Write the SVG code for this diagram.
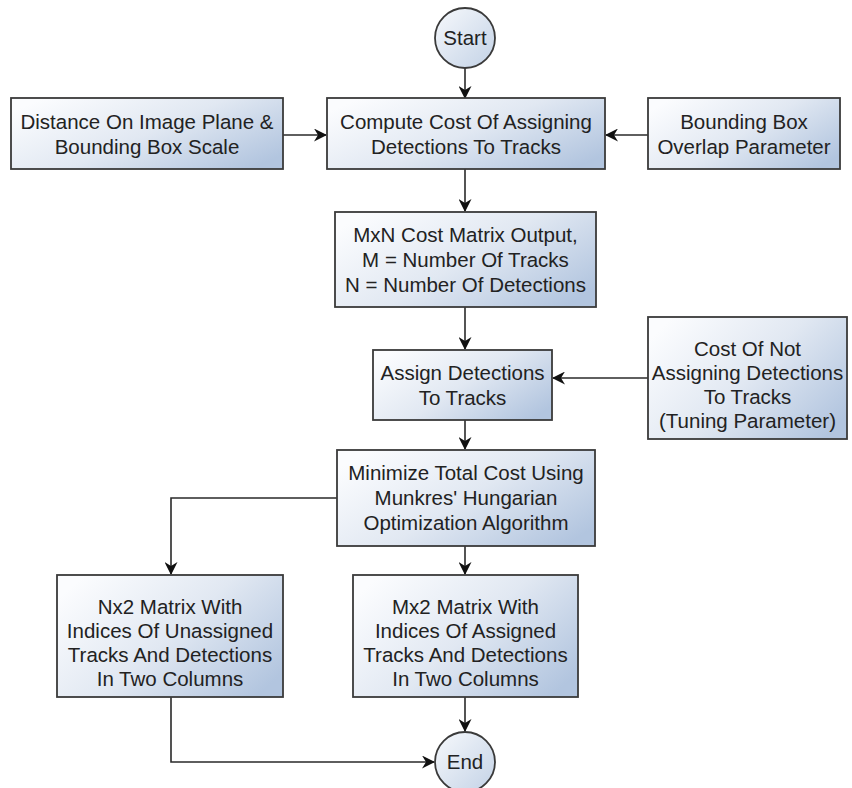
<svg xmlns="http://www.w3.org/2000/svg" width="852" height="788" viewBox="0 0 852 788">
  <style>
    .box { fill: url(#fillGrad); stroke: #3a3a3a; stroke-width: 1.8; }
    .term { fill: url(#termGrad); stroke: #3a3a3a; stroke-width: 1.8; }
    .lbl { font-family: "Liberation Sans", Arial, sans-serif; font-size: 20.5px; fill: #222; text-anchor: middle; }
    .edge { fill: none; stroke: #2a2a2a; stroke-width: 1.6; marker-end: url(#arrow); }
  </style>
  <defs>
    <linearGradient id="fillGrad" x1="0" y1="0.2" x2="1" y2="0.8">
      <stop offset="0" stop-color="#fbfcfe"/>
      <stop offset="0.5" stop-color="#e1e8f2"/>
      <stop offset="1" stop-color="#b2c5df"/>
    </linearGradient>
    <linearGradient id="termGrad" x1="0" y1="0" x2="1" y2="1">
      <stop offset="0" stop-color="#f7f9fc"/>
      <stop offset="1" stop-color="#c3d2e6"/>
    </linearGradient>
    <marker id="arrow" markerUnits="userSpaceOnUse" markerWidth="13" markerHeight="13" refX="12" refY="6.5" orient="auto">
      <path d="M0,0 L13,6.5 L0,13 L4,6.5 z" fill="#111"/>
    </marker>
  </defs>

  <!-- connectors -->
  <g id="connectors">
    <path class="edge" d="M465,68 V98"/>
    <path class="edge" d="M283,135 H326"/>
    <path class="edge" d="M648,135 H606"/>
    <path class="edge" d="M465,169 V211"/>
    <path class="edge" d="M465,307 V349"/>
    <path class="edge" d="M648,378 H553"/>
    <path class="edge" d="M465,420 V449"/>
    <path class="edge" d="M337,498 H171 V574"/>
    <path class="edge" d="M465,546 V574"/>
    <path class="edge" d="M465,697 V731"/>
    <path class="edge" d="M171,697 V762 H434"/>
  </g>

  <g id="start">
    <circle class="term" cx="465" cy="38" r="30"/>
    <text class="lbl" x="465" y="45">Start</text>
  </g>

  <g id="distance">
    <rect class="box" x="11" y="98" width="272" height="71"/>
    <text class="lbl" x="147" y="129">Distance On Image Plane &amp;</text>
    <text class="lbl" x="147" y="154">Bounding Box Scale</text>
  </g>

  <g id="compute">
    <rect class="box" x="327" y="98" width="278" height="71"/>
    <text class="lbl" x="466" y="129">Compute Cost Of Assigning</text>
    <text class="lbl" x="466" y="154">Detections To Tracks</text>
  </g>

  <g id="overlap">
    <rect class="box" x="648" y="98" width="192" height="71"/>
    <text class="lbl" x="744" y="129">Bounding Box</text>
    <text class="lbl" x="744" y="154">Overlap Parameter</text>
  </g>

  <g id="matrix">
    <rect class="box" x="335" y="212" width="261" height="95"/>
    <text class="lbl" x="465.5" y="242">MxN Cost Matrix Output,</text>
    <text class="lbl" x="465.5" y="267">M = Number Of Tracks</text>
    <text class="lbl" x="465.5" y="292">N = Number Of Detections</text>
  </g>

  <g id="assign">
    <rect class="box" x="373" y="350" width="179" height="70"/>
    <text class="lbl" x="462.5" y="380">Assign Detections</text>
    <text class="lbl" x="462.5" y="405">To Tracks</text>
  </g>

  <g id="nonassign">
    <rect class="box" x="648" y="317" width="199" height="122"/>
    <text class="lbl" x="747.5" y="356">Cost Of Not</text>
    <text class="lbl" x="747.5" y="380">Assigning Detections</text>
    <text class="lbl" x="747.5" y="404">To Tracks</text>
    <text class="lbl" x="747.5" y="428">(Tuning Parameter)</text>
  </g>

  <g id="minimize">
    <rect class="box" x="337" y="450" width="258" height="96"/>
    <text class="lbl" x="466" y="480">Minimize Total Cost Using</text>
    <text class="lbl" x="466" y="505">Munkres' Hungarian</text>
    <text class="lbl" x="466" y="530">Optimization Algorithm</text>
  </g>

  <g id="unassigned">
    <rect class="box" x="57" y="575" width="226" height="122"/>
    <text class="lbl" x="170" y="614">Nx2 Matrix With</text>
    <text class="lbl" x="170" y="638">Indices Of Unassigned</text>
    <text class="lbl" x="170" y="662">Tracks And Detections</text>
    <text class="lbl" x="170" y="686">In Two Columns</text>
  </g>

  <g id="assigned">
    <rect class="box" x="353" y="575" width="225" height="122"/>
    <text class="lbl" x="465.5" y="614">Mx2 Matrix With</text>
    <text class="lbl" x="465.5" y="638">Indices Of Assigned</text>
    <text class="lbl" x="465.5" y="662">Tracks And Detections</text>
    <text class="lbl" x="465.5" y="686">In Two Columns</text>
  </g>

  <g id="end">
    <circle class="term" cx="465" cy="762" r="30"/>
    <text class="lbl" x="465" y="769">End</text>
  </g>
</svg>
